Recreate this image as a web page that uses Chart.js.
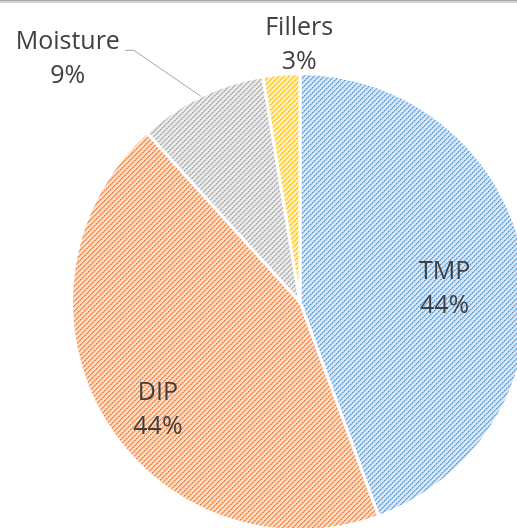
<!DOCTYPE html>
<html>
<head>
<meta charset="utf-8">
<script src="https://cdn.jsdelivr.net/npm/chart.js@4"></script>
<style>
  html, body { margin: 0; padding: 0; background: #fff; }
  body { width: 517px; height: 528px; overflow: hidden; position: relative; }
  #pie { position: absolute; left: 0; top: 0; }
</style>
</head>
<body>
<canvas id="pie" width="540" height="560"></canvas>
<script>
// data
const categories = ['TMP', 'DIP', 'Moisture', 'Fillers'];
const shares = [44.4, 43.9, 9.1, 2.6];

// look
const lightColors = ['#d6e6f6', '#fcdcc8', '#e9e9e9', '#ffefc0'];
const midColors = ['#96bfe8', '#f4a875', '#c6c6c6', '#ffd54d'];
const darkColors = ['#5b9bd5', '#ed7d31', '#a5a5a5', '#ffc000'];
// label placement relative to each slice: angle shift (deg), radius factor
const labelShift = [5, -6, -18, 4.5];
const labelRadius = [0.635, 0.78, 1.47, 1.127];

function hatch(light, mid, dark) {
  const size = 10;
  const c = document.createElement('canvas');
  c.width = size;
  c.height = size;
  const g = c.getContext('2d');
  g.fillStyle = light;
  g.fillRect(0, 0, size, size);
  for (const off of [0, 5]) {
    for (let x = 0; x < size; x++) {
      const y = ((size - 1 - x + off) % size + size) % size;
      g.fillStyle = mid;
      g.fillRect(x, (y + 1) % size, 1, 1);
      g.fillStyle = x % 2 === 0 ? dark : mid;
      g.fillRect(x, y, 1, 1);
    }
  }
  return g.createPattern(c, 'repeat');
}

const fills = categories.map((_, i) => hatch(lightColors[i], midColors[i], darkColors[i]));
const total = shares.reduce((a, b) => a + b, 0);

const sliceLabels = {
  id: 'sliceLabels',
  afterDraw(chart) {
    const ctx = chart.ctx;
    // frame line at the top
    ctx.save();
    ctx.fillStyle = '#d4d4d4';
    ctx.fillRect(0, 0, 517, 3);
    ctx.fillStyle = '#a8a8a8';
    ctx.fillRect(0, 0, 517, 1);

    const arcs = chart.getDatasetMeta(0).data;
    ctx.font = '25px "Open Sans"';
    ctx.fillStyle = '#404040';
    ctx.textAlign = 'center';
    ctx.textBaseline = 'middle';
    arcs.forEach((arc, i) => {
      const mid = (arc.startAngle + arc.endAngle) / 2;
      const a = mid + labelShift[i] * Math.PI / 180;
      const r = arc.outerRadius * labelRadius[i];
      const x = arc.x + Math.cos(a) * r;
      const y = arc.y + Math.sin(a) * r;
      const pct = Math.round(shares[i] / total * 100) + '%';
      ctx.fillText(categories[i], x, y - 17);
      ctx.fillText(pct, x, y + 17);

      if (categories[i] === 'Moisture') {
        const w = ctx.measureText(categories[i]).width;
        const sx = x + w / 2 + 5;
        const sy = y - 9;
        const ex = arc.x + Math.cos(mid) * arc.outerRadius;
        const ey = arc.y + Math.sin(mid) * arc.outerRadius;
        ctx.beginPath();
        ctx.strokeStyle = '#a6a6a6';
        ctx.lineWidth = 1;
        ctx.moveTo(sx, sy);
        ctx.lineTo(sx + 9, sy);
        ctx.lineTo(ex, ey);
        ctx.stroke();
      }
    });
    ctx.restore();
  }
};

new Chart(document.getElementById('pie'), {
  type: 'pie',
  data: {
    labels: categories,
    datasets: [{
      data: shares,
      backgroundColor: fills,
      borderColor: '#ffffff',
      borderWidth: 3
    }]
  },
  options: {
    responsive: false,
    animation: false,
    devicePixelRatio: 1,
    layout: { padding: { left: 70, top: 72, right: 10, bottom: 28 } },
    plugins: {
      legend: { display: false },
      tooltip: { enabled: false }
    }
  },
  plugins: [sliceLabels]
});
</script>
</body>
</html>
